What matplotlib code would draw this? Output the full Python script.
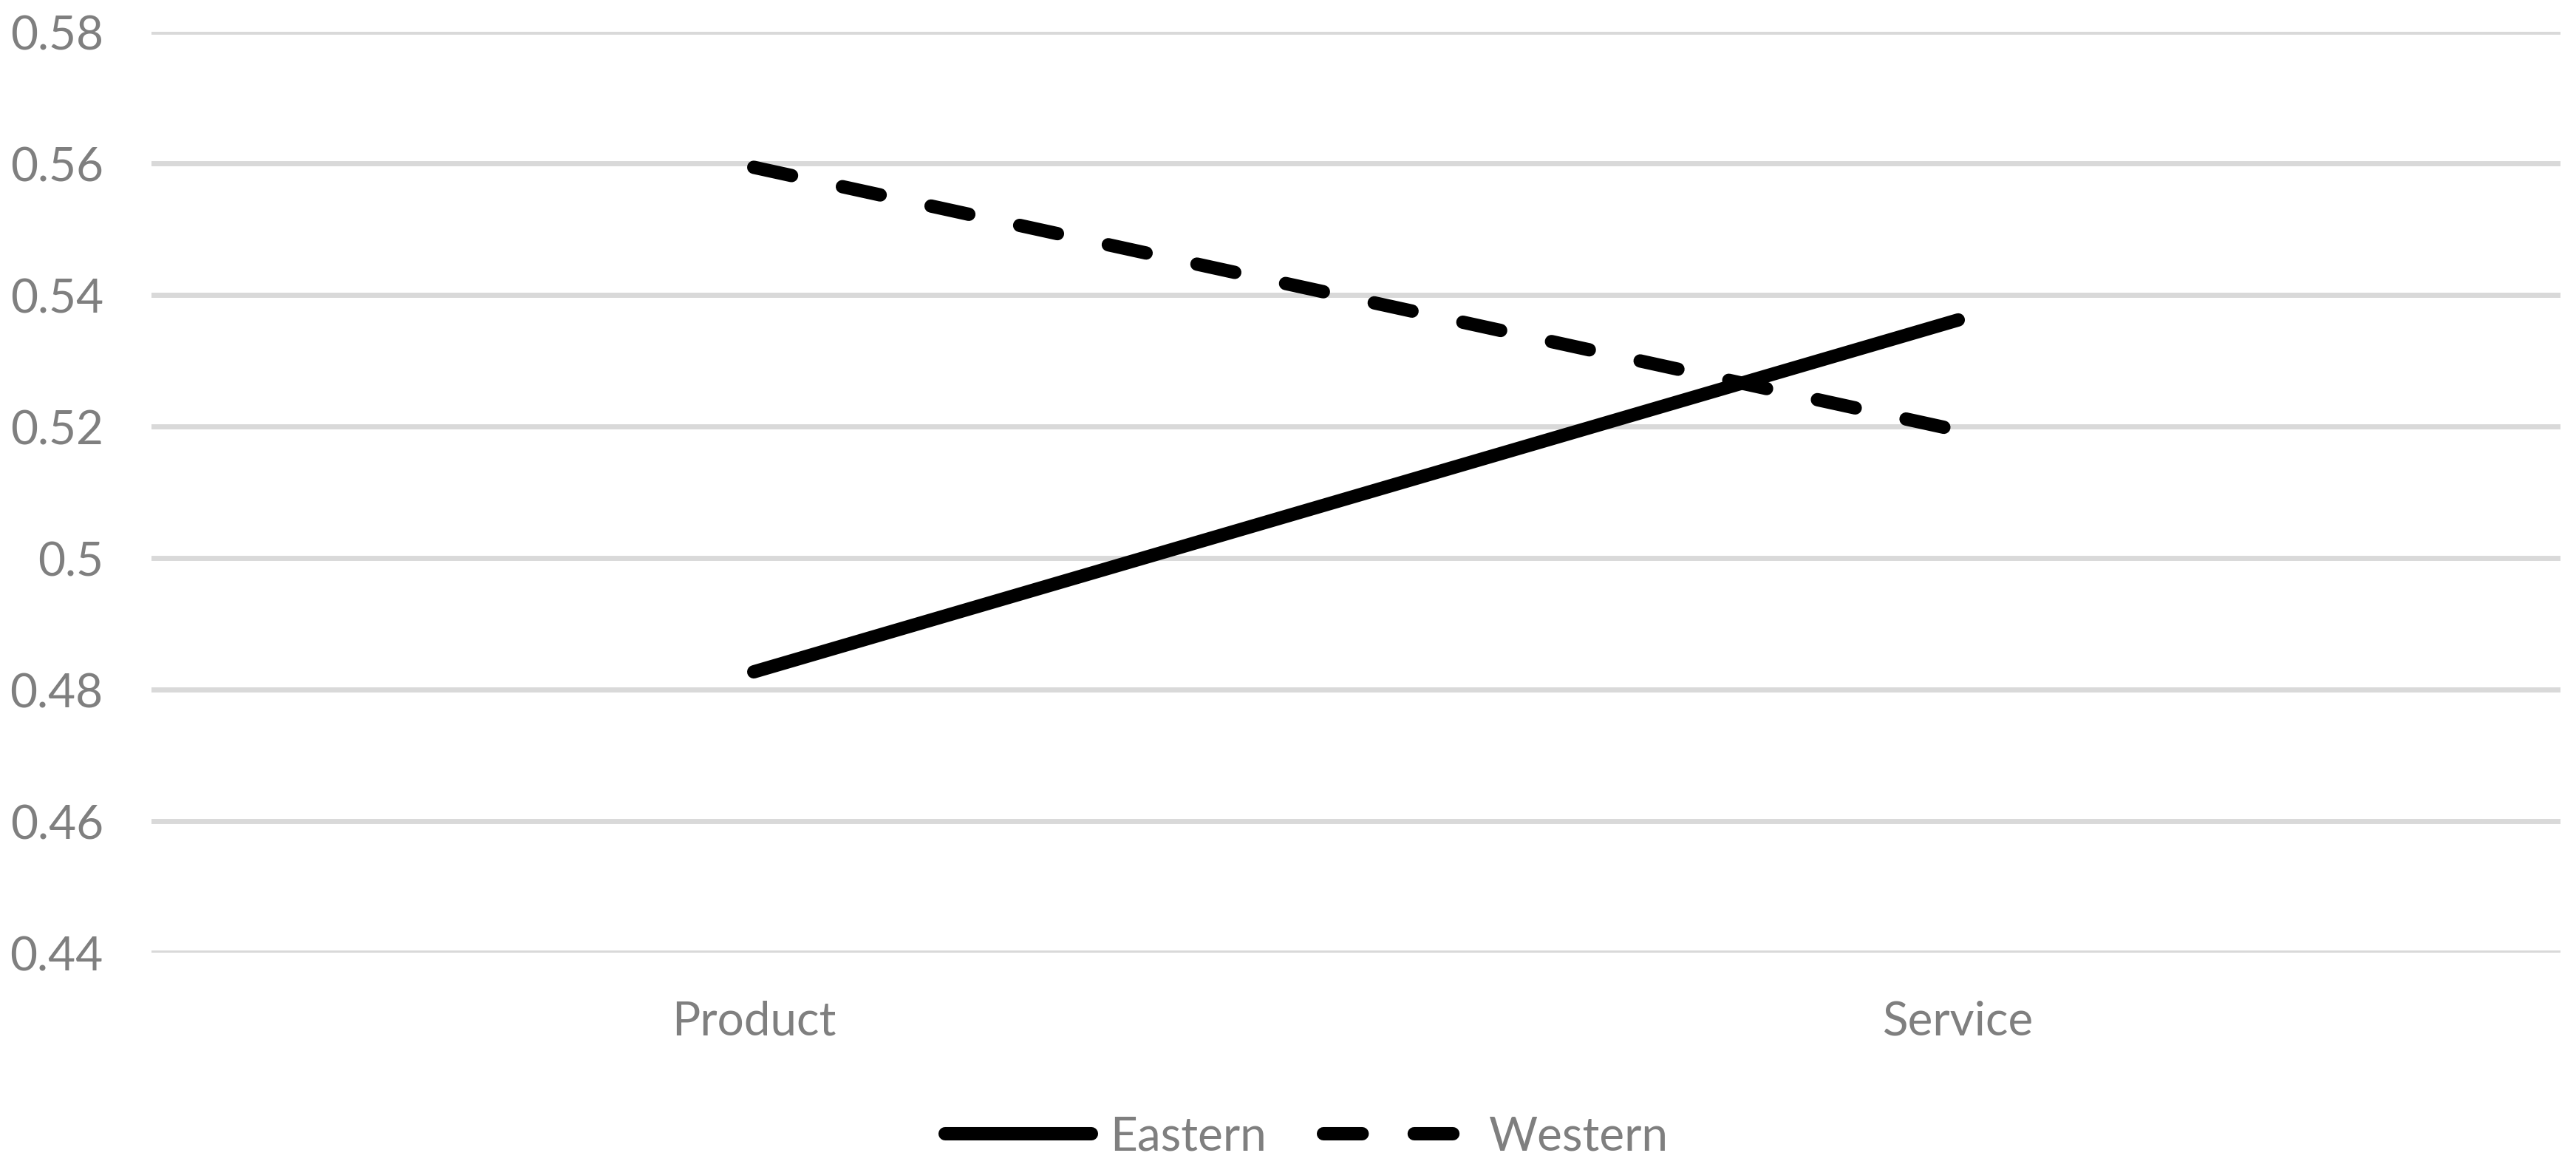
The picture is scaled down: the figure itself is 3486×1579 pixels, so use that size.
import numpy as np
import matplotlib
matplotlib.use('Agg')
import matplotlib.pyplot as plt

# data
categories = ['Product', 'Service']
eastern = [0.4827, 0.5362]
western = [0.5594, 0.5194]
y_ticks = [0.44, 0.46, 0.48, 0.50, 0.52, 0.54, 0.56, 0.58]
y_tick_labels = ['0.44', '0.46', '0.48', '0.5', '0.52', '0.54', '0.56', '0.58']

TEXT_GREY = '#7f7f7f'
GRID_GREY = '#d9d9d9'

plt.rcParams['font.family'] = ['Lato', 'DejaVu Sans']


def plot_lines():
    fig = plt.figure(figsize=(17.435, 7.8995), dpi=200)
    ax = fig.add_axes([0.0588, 0.1835, 0.9349, 0.7887])

    x = np.arange(len(categories))
    ax.plot(x, eastern, color='black', lw=6.5, solid_capstyle='round',
            label='Eastern', zorder=3)
    ax.plot(x, western, color='black', lw=6.5, linestyle=(0, (2.9, 3.9)),
            dash_capstyle='round', label='Western', zorder=3)

    ax.set_xlim(-0.5, len(categories) - 0.5)
    ax.set_ylim(0.44, 0.58)
    ax.set_xticks(x)
    ax.set_xticklabels(categories)
    ax.set_yticks(y_ticks)
    ax.set_yticklabels(y_tick_labels)

    ax.grid(True, axis='y', color=GRID_GREY, lw=2.5, zorder=0)
    ax.set_axisbelow(True)
    for s in ax.spines.values():
        s.set_visible(False)
    ax.tick_params(axis='both', length=0, labelsize=23, labelcolor=TEXT_GREY)
    ax.tick_params(axis='y', pad=23.5)
    ax.tick_params(axis='x', pad=23)

    leg = fig.legend(loc='center', bbox_to_anchor=(0.507, 0.026), ncol=2,
                     frameon=False, fontsize=23, handlelength=3.1,
                     handletextpad=0.4, columnspacing=1.2)
    for t in leg.get_texts():
        t.set_color(TEXT_GREY)

    fig.savefig('out.png', dpi=200)


if __name__ == '__main__':
    plot_lines()
